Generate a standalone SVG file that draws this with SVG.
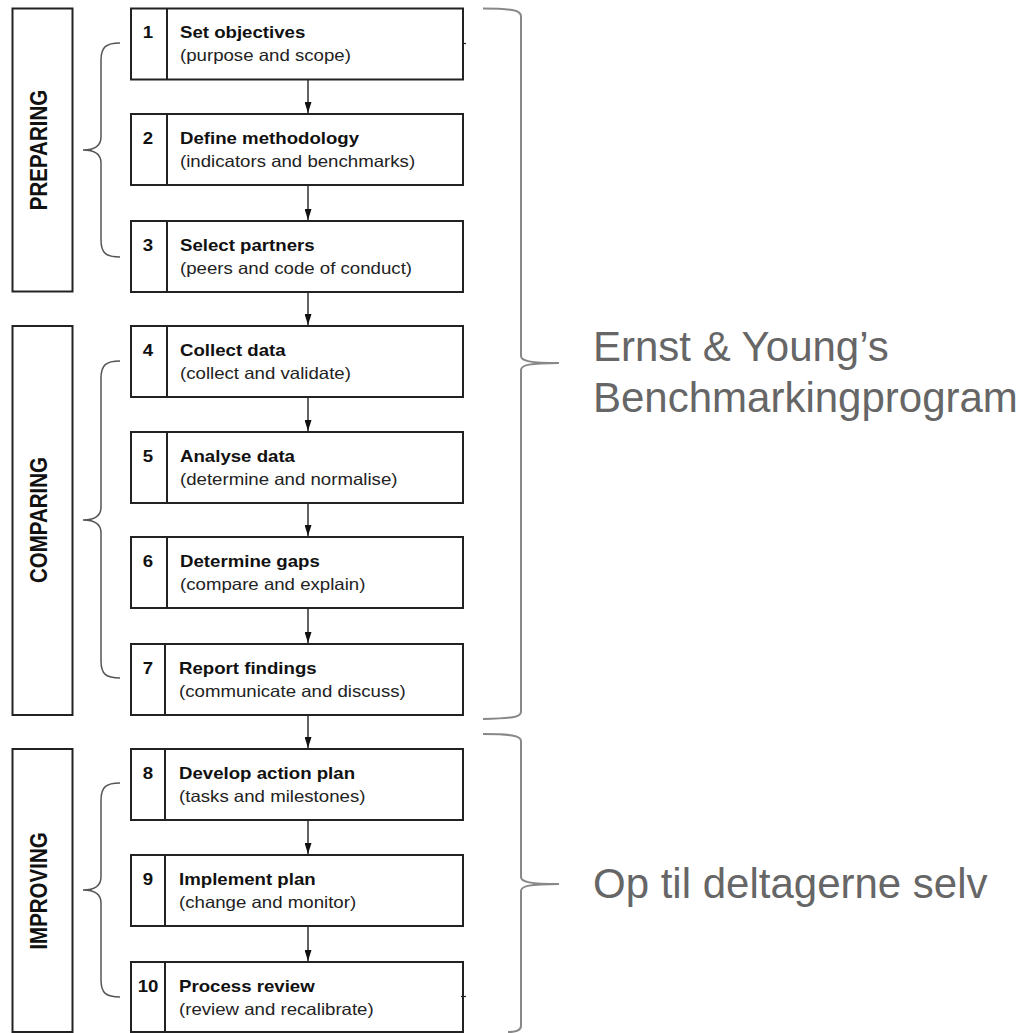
<svg xmlns="http://www.w3.org/2000/svg" width="1028" height="1033" viewBox="0 0 1028 1033">
<style>
.box{fill:#fff;stroke:#222;stroke-width:2}
.div{stroke:#222;stroke-width:2}
.grp{fill:#fff;stroke:#222;stroke-width:2}
.num{font-family:"Liberation Sans",Arial,sans-serif;font-weight:bold;font-size:16.5px;fill:#111;text-anchor:middle}
.ttl{font-family:"Liberation Sans",Arial,sans-serif;font-weight:bold;font-size:16.5px;fill:#111}
.sub{font-family:"Liberation Sans",Arial,sans-serif;font-size:16.5px;fill:#222}
.vlab{font-family:"Liberation Sans",Arial,sans-serif;font-weight:bold;font-size:20.5px;fill:#111;text-anchor:middle}
.big{font-family:"Liberation Sans",Arial,sans-serif;font-size:42px;fill:#666}
.lbrace{fill:none;stroke:#555;stroke-width:1.5}
.rbrace{fill:none;stroke:#888;stroke-width:2}
.conn{stroke:#222;stroke-width:1.4;fill:none}
.tick{stroke:#222;stroke-width:1.2}
</style>
<defs>
<marker id="ah" markerUnits="userSpaceOnUse" markerWidth="11" markerHeight="7" refX="11" refY="3.5" orient="auto">
<path d="M0,0 L11,3.5 L0,7 z" fill="#111"/>
</marker>
</defs>

<g id="phase-preparing">
<rect class="grp" x="12.5" y="8.5" width="60" height="283"/>
<text class="vlab" transform="translate(39,150) scale(1.13,1) rotate(-90)" y="7.4">PREPARING</text>
<path class="lbrace" d="M120,43 C106,43 101,47 101,60 L101,137 C101,145 96,150 83,150 C96,150 101,155 101,163 L101,240 C101,253 106,257 120,257"/>
</g>
<g id="phase-comparing">
<rect class="grp" x="12.5" y="326" width="60" height="389"/>
<text class="vlab" transform="translate(39,520) scale(1.13,1) rotate(-90)" y="7.4">COMPARING</text>
<path class="lbrace" d="M120,361 C106,361 101,365 101,378 L101,507 C101,515 96,520 83,520 C96,520 101,525 101,533 L101,661 C101,674 106,678 120,678"/>
</g>
<g id="phase-improving">
<rect class="grp" x="12.5" y="749" width="60" height="283"/>
<text class="vlab" transform="translate(39,891) scale(1.13,1) rotate(-90)" y="7.4">IMPROVING</text>
<path class="lbrace" d="M120,783 C106,783 101,787 101,800 L101,877 C101,885 96,890 83,890 C96,890 101,895 101,903 L101,980 C101,993 106,997 120,997"/>
</g>

<g id="step1">
<rect class="box" x="131" y="8.5" width="332" height="71"/>
<line class="div" x1="167" y1="8.5" x2="167" y2="79.5"/>
<text class="num" transform="matrix(1.13 0 0 1 148 38)">1</text>
<text class="ttl" transform="matrix(1.13 0 0 1 180 38)">Set objectives</text>
<text class="sub" transform="matrix(1.13 0 0 1 180 60.5)">(purpose and scope)</text>
</g>
<g id="step2">
<rect class="box" x="131" y="114" width="332" height="71"/>
<line class="div" x1="167" y1="114" x2="167" y2="185"/>
<text class="num" transform="matrix(1.13 0 0 1 148 144)">2</text>
<text class="ttl" transform="matrix(1.13 0 0 1 180 144)">Define methodology</text>
<text class="sub" transform="matrix(1.13 0 0 1 180 166.5)">(indicators and benchmarks)</text>
</g>
<g id="step3">
<rect class="box" x="131" y="221" width="332" height="71"/>
<line class="div" x1="167" y1="221" x2="167" y2="292"/>
<text class="num" transform="matrix(1.13 0 0 1 148 251)">3</text>
<text class="ttl" transform="matrix(1.13 0 0 1 180 251)">Select partners</text>
<text class="sub" transform="matrix(1.13 0 0 1 180 273.5)">(peers and code of conduct)</text>
</g>
<g id="step4">
<rect class="box" x="131" y="326" width="332" height="71"/>
<line class="div" x1="167" y1="326" x2="167" y2="397"/>
<text class="num" transform="matrix(1.13 0 0 1 148 356)">4</text>
<text class="ttl" transform="matrix(1.13 0 0 1 180 356)">Collect data</text>
<text class="sub" transform="matrix(1.13 0 0 1 180 378.5)">(collect and validate)</text>
</g>
<g id="step5">
<rect class="box" x="131" y="432" width="332" height="71"/>
<line class="div" x1="167" y1="432" x2="167" y2="503"/>
<text class="num" transform="matrix(1.13 0 0 1 148 462)">5</text>
<text class="ttl" transform="matrix(1.13 0 0 1 180 462)">Analyse data</text>
<text class="sub" transform="matrix(1.13 0 0 1 180 484.5)">(determine and normalise)</text>
</g>
<g id="step6">
<rect class="box" x="131" y="537" width="332" height="71"/>
<line class="div" x1="167" y1="537" x2="167" y2="608"/>
<text class="num" transform="matrix(1.13 0 0 1 148 567)">6</text>
<text class="ttl" transform="matrix(1.13 0 0 1 180 567)">Determine gaps</text>
<text class="sub" transform="matrix(1.13 0 0 1 180 589.5)">(compare and explain)</text>
</g>
<g id="step7">
<rect class="box" x="131" y="644" width="332" height="71"/>
<line class="div" x1="165" y1="644" x2="165" y2="715"/>
<text class="num" transform="matrix(1.13 0 0 1 148 674)">7</text>
<text class="ttl" transform="matrix(1.13 0 0 1 179 674)">Report findings</text>
<text class="sub" transform="matrix(1.13 0 0 1 179 696.5)">(communicate and discuss)</text>
</g>
<g id="step8">
<rect class="box" x="131" y="749" width="332" height="71"/>
<line class="div" x1="165" y1="749" x2="165" y2="820"/>
<text class="num" transform="matrix(1.13 0 0 1 148 779)">8</text>
<text class="ttl" transform="matrix(1.13 0 0 1 179 779)">Develop action plan</text>
<text class="sub" transform="matrix(1.13 0 0 1 179 801.5)">(tasks and milestones)</text>
</g>
<g id="step9">
<rect class="box" x="131" y="855" width="332" height="71"/>
<line class="div" x1="165" y1="855" x2="165" y2="926"/>
<text class="num" transform="matrix(1.13 0 0 1 148 885)">9</text>
<text class="ttl" transform="matrix(1.13 0 0 1 179 885)">Implement plan</text>
<text class="sub" transform="matrix(1.13 0 0 1 179 907.5)">(change and monitor)</text>
</g>
<g id="step10">
<rect class="box" x="131" y="962" width="332" height="70"/>
<line class="div" x1="165" y1="962" x2="165" y2="1032"/>
<text class="num" transform="matrix(1.13 0 0 1 148 992)">10</text>
<text class="ttl" transform="matrix(1.13 0 0 1 179 992)">Process review</text>
<text class="sub" transform="matrix(1.13 0 0 1 179 1014.5)">(review and recalibrate)</text>
</g>

<g id="connectors">
<line class="conn" x1="308" y1="80" x2="308" y2="113" marker-end="url(#ah)"/>
<line class="conn" x1="308" y1="186" x2="308" y2="220" marker-end="url(#ah)"/>
<line class="conn" x1="308" y1="293" x2="308" y2="325" marker-end="url(#ah)"/>
<line class="conn" x1="308" y1="398" x2="308" y2="431" marker-end="url(#ah)"/>
<line class="conn" x1="308" y1="504" x2="308" y2="536" marker-end="url(#ah)"/>
<line class="conn" x1="308" y1="609" x2="308" y2="643" marker-end="url(#ah)"/>
<line class="conn" x1="308" y1="716" x2="308" y2="748" marker-end="url(#ah)"/>
<line class="conn" x1="308" y1="821" x2="308" y2="854" marker-end="url(#ah)"/>
<line class="conn" x1="308" y1="927" x2="308" y2="961" marker-end="url(#ah)"/>
<line class="tick" x1="463" y1="43.5" x2="466" y2="43.5"/>
<line class="tick" x1="461" y1="996.5" x2="466" y2="996.5"/>
</g>

<g id="bench-program">
<path class="rbrace" d="M483,8.5 C510,8.5 521,10 521,16 L521,356 C521,361 530,363 559,363 C530,363 521,365 521,370 L521,712 C521,717 512,718.5 483,719"/>
<text class="big" x="593" y="361">Ernst &amp; Young’s</text>
<text class="big" x="593" y="412">Benchmarkingprogram</text>
</g>
<g id="participants">
<path class="rbrace" d="M483,734 C510,734 521,735.5 521,741 L521,877 C521,882 530,884 559,884 C530,884 521,886 521,891 L521,1026 C521,1031 514,1032 508,1032"/>
<text class="big" x="593" y="898">Op til deltagerne selv</text>
</g>
</svg>
